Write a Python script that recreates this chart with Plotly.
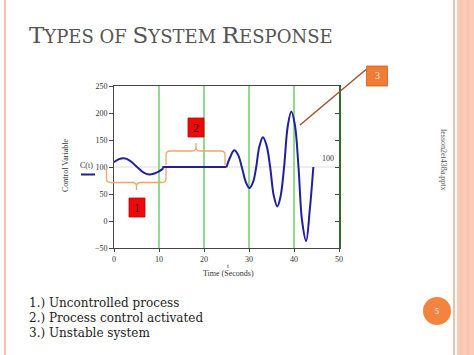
import plotly.graph_objects as go

# ---- data ----
t_uncontrolled = [0, 1, 2.2, 3.5, 5.0, 6.5, 7.8, 9.0, 10.0, 10.9]
c_uncontrolled = [109, 114, 116, 112, 101, 90, 86, 88, 92, 97]

t_controlled = [10.9, 10.95, 25]
c_controlled = [97, 100, 100]

t_unstable = [25, 25.8, 26.7, 27.6, 28.4, 29.3, 30.1, 30.9, 31.6, 32.3, 33.1, 33.9,
              34.7, 35.5, 36.3, 37.0, 37.8, 38.6, 39.4, 40.2, 41.0, 41.8, 42.7, 43.5, 44.3]
c_unstable = [100, 118, 131, 122, 100, 72, 61, 72, 100, 138, 155, 140,
              100, 47, 27, 45, 100, 175, 203, 178, 100, 0, -37, 20, 100]

x_ticks = [0, 10, 20, 30, 40, 50]
y_ticks = [-50, 0, 50, 100, 150, 200, 250]
setpoint = 100

title_parts = [("T", "YPES OF "), ("S", "YSTEM "), ("R", "ESPONSE")]
bullets = ["1.) Uncontrolled process", "2.) Process control activated", "3.) Unstable system"]

# ---- layout geometry (pixels) ----
WID, HEI = 474, 355
L, R, T, B = 114, 339, 86, 248


def px(x):
    return (x - L) / (R - L)


def py(y):
    return (B - y) / (B - T)


BLUE = "#1f1fa0"
SERIF = "Liberation Serif"
BIGSERIF = "DejaVu Serif"
ORANGE_BR = "#f2a46a"

fig = go.Figure()
line = dict(color=BLUE, width=2)
fig.add_trace(go.Scatter(x=t_uncontrolled, y=c_uncontrolled, mode="lines",
                         line=dict(shape="spline", **line), showlegend=False))
fig.add_trace(go.Scatter(x=t_controlled, y=c_controlled, mode="lines",
                         line=line, showlegend=False))
fig.add_trace(go.Scatter(x=t_unstable, y=c_unstable, mode="lines",
                         line=dict(shape="spline", **line), showlegend=False))
# invisible trace for right axis
fig.add_trace(go.Scatter(x=[0], y=[100], yaxis="y2", mode="markers",
                         marker=dict(opacity=0), showlegend=False, hoverinfo="skip"))

tickfont = dict(family=SERIF, size=8, color="#333")
fig.update_layout(
    width=WID, height=HEI, autosize=False,
    margin=dict(l=L, r=WID - R, t=T, b=HEI - B, pad=0),
    paper_bgcolor="white", plot_bgcolor="white",
    xaxis=dict(range=[0, 50], tickvals=x_ticks, showgrid=True, gridcolor="#8fdc8f",
               gridwidth=1.5, zeroline=False, showline=True, linecolor="#444",
               linewidth=1, mirror=True, ticks="outside", ticklen=3, tickcolor="#444",
               tickfont=tickfont),
    yaxis=dict(range=[-50, 250], tickvals=y_ticks, showgrid=False, zeroline=False,
               showline=True, linecolor="#444", linewidth=1, ticks="outside",
               ticklen=4, tickcolor="#444", tickfont=tickfont),
    yaxis2=dict(range=[-50, 250], tickvals=y_ticks, overlaying="y", side="right",
                showgrid=False, zeroline=False, showline=True, linecolor="#2e6b2e",
                linewidth=1.5, ticks="inside", ticklen=4, tickcolor="#444",
                showticklabels=False),
)

shapes = []
# setpoint reference line
shapes.append(dict(type="line", xref="x", yref="y", x0=0, x1=50, y0=setpoint, y1=setpoint,
                   line=dict(color="#dddddd", width=1.2), layer="below"))

# slide borders
shapes.append(dict(type="line", xref="paper", yref="paper", x0=px(5), x1=px(5), y0=py(0), y1=py(HEI),
                   line=dict(color="#f3c2b2", width=2)))
shapes.append(dict(type="line", xref="paper", yref="paper", x0=px(454), x1=px(454), y0=py(0), y1=py(HEI),
                   line=dict(color="#efc0ae", width=2)))
shapes.append(dict(type="rect", xref="paper", yref="paper", x0=px(457), x1=px(475), y0=py(0), y1=py(HEI),
                   fillcolor="#fccab6", line=dict(width=0)))
for sx in (461, 468):
    shapes.append(dict(type="line", xref="paper", yref="paper", x0=px(sx), x1=px(sx), y0=py(0), y1=py(HEI),
                       line=dict(color="#f7bba4", width=1)))


def brace(x0, x1, xc, yend, ymid, ytip, r=4):
    d = r if ymid > yend else -r
    dt = r if ytip > ymid else -r
    pts = [
        f"M {px(x0)},{py(yend)}",
        f"L {px(x0)},{py(ymid - d)}",
        f"Q {px(x0)},{py(ymid)} {px(x0 + r)},{py(ymid)}",
        f"L {px(xc - r)},{py(ymid)}",
        f"Q {px(xc)},{py(ymid)} {px(xc)},{py(ymid + dt)}",
        f"L {px(xc)},{py(ytip)}",
        f"M {px(xc)},{py(ymid + dt)}",
        f"Q {px(xc)},{py(ymid)} {px(xc + r)},{py(ymid)}",
        f"L {px(x1 - r)},{py(ymid)}",
        f"Q {px(x1)},{py(ymid)} {px(x1)},{py(ymid - d)}",
        f"L {px(x1)},{py(yend)}",
    ]
    return dict(type="path", xref="paper", yref="paper", path=" ".join(pts),
                line=dict(color=ORANGE_BR, width=1.3))


shapes.append(brace(106.5, 166, 136.5, 168, 182.5, 190))
shapes.append(brace(166, 225, 196, 165, 151, 143))

# numbered boxes
shapes.append(dict(type="rect", xref="paper", yref="paper", x0=px(129), x1=px(145), y0=py(217), y1=py(198),
                   fillcolor="#ee0a0a", line=dict(color="#c00000", width=0.8)))
shapes.append(dict(type="rect", xref="paper", yref="paper", x0=px(188), x1=px(204), y0=py(137), y1=py(118),
                   fillcolor="#ee0a0a", line=dict(color="#c00000", width=0.8)))
shapes.append(dict(type="rect", xref="paper", yref="paper", x0=px(366.5), x1=px(387.5), y0=py(86), y1=py(66),
                   fillcolor="#f07d35", line=dict(color="#c8601f", width=0.8)))
shapes.append(dict(type="line", xref="paper", yref="paper", x0=px(366), y0=py(69.5), x1=px(300), y1=py(125),
                   line=dict(color="#a0522d", width=1.5)))
# legend line
shapes.append(dict(type="line", xref="paper", yref="paper", x0=px(81), x1=px(95), y0=py(174.5), y1=py(174.5),
                   line=dict(color=BLUE, width=2)))
# page number circle
shapes.append(dict(type="circle", xref="paper", yref="paper", x0=px(423), x1=px(451), y0=py(325), y1=py(297),
                   fillcolor="#f3843f", line=dict(width=0)))

ann = []


def text(x, y, s, size, color="#333", xanchor="center", yanchor="middle", angle=0, family=SERIF):
    ann.append(dict(x=px(x), y=py(y), xref="paper", yref="paper", text=s, showarrow=False,
                    xanchor=xanchor, yanchor=yanchor, textangle=angle,
                    font=dict(family=family, size=size, color=color)))


title = "".join(f"{big}<span style='font-size:18px'>{small}</span>" for big, small in title_parts)
text(27, 35, title, 23, color="#555555", xanchor="left", family=BIGSERIF)
for i, b in enumerate(bullets):
    text(27, 302.5 + 15 * i, b, 12, color="#222", xanchor="left", family=BIGSERIF)
text(436.7, 311, "5", 8, color="white")
text(137, 207.5, "1", 12, color="#2a1010")
text(196, 127.5, "2", 12, color="#2a1010")
text(377, 76, "3", 10, color="#ffe6d6")
text(86.5, 165, "C(t)", 8)
text(327.5, 158, "100", 8)
text(65, 166, "Control Variable", 8, angle=-90)
text(228, 265.5, "t", 7)
text(228, 273.5, "Time (Seconds)", 8)
text(444, 160, "lesson2et438a.pptx", 8, color="#555", angle=90)

fig.update_layout(shapes=shapes, annotations=ann)
fig.write_html("out.html", config={"displayModeBar": False},
               post_script="document.body.style.margin='0';document.body.style.overflow='hidden';")
